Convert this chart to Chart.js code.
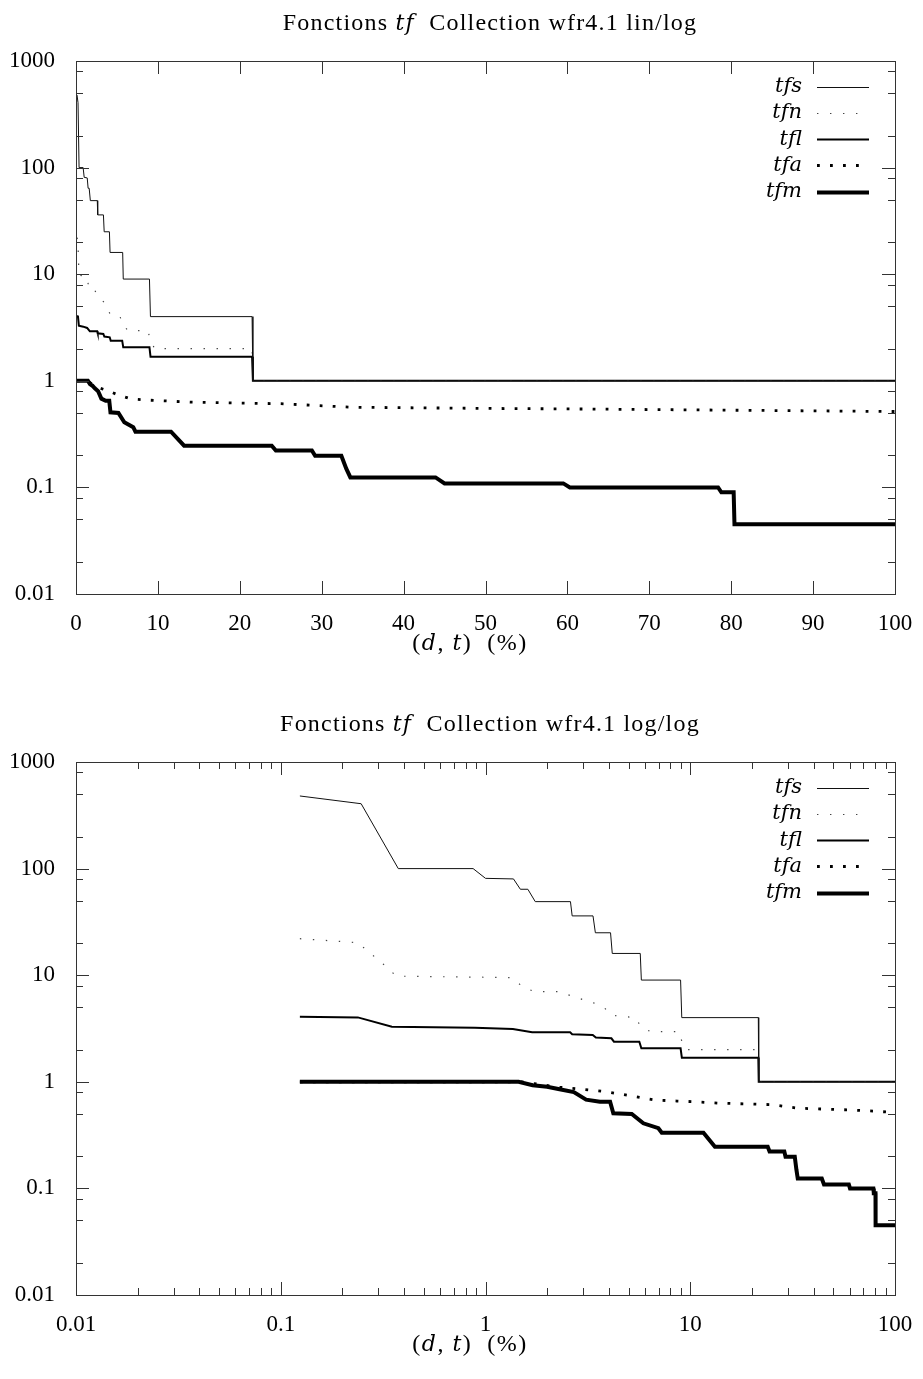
<!DOCTYPE html>
<html><head><meta charset="utf-8">
<script src="https://cdn.jsdelivr.net/npm/chart.js@4/dist/chart.umd.min.js"></script>
<style>
html,body{margin:0;padding:0;background:#fff;overflow:hidden;}
canvas{display:block;}
</style></head><body>
<canvas id="c1" width="923" height="701"></canvas>
<canvas id="c2" width="923" height="678"></canvas>
<script>
// ---- data (x in %, y values) ----
const seriesLabels = ['tfs', 'tfn', 'tfl', 'tfa', 'tfm'];
const tfsX = [0.124, 0.247, 0.375, 0.87, 1.0, 1.37, 1.48, 1.61, 1.75, 2.6, 2.65, 3.35, 3.44, 4.08, 4.16, 5.7, 5.77, 8.97, 9.09, 21.5, 21.6, 100];
const tfsY = [480, 406, 100, 100, 81, 80, 64, 64, 49, 49, 36, 36, 25, 25, 16, 16, 9, 9, 4, 4, 1, 1];
const tfnX = [0.124, 0.238, 0.268, 0.303, 0.338, 0.366, 1.33, 1.51, 1.73, 2.31, 2.62, 3.37, 3.78, 4.16, 5.38, 5.75, 6.4, 8.77, 9.1, 9.6, 21.5, 21.6, 100];
const tfnY = [22, 20.2, 16.6, 13.7, 11.4, 9.8, 9.5, 7.9, 7.0, 7.0, 6.4, 5.5, 5.0, 4.2, 4.0, 3.3, 2.95, 2.95, 2.4, 2.0, 2.0, 1, 1];
const tflX = [0.124, 0.238, 0.349, 0.887, 1.36, 1.69, 2.59, 2.65, 3.34, 3.46, 4.12, 4.24, 5.64, 5.77, 8.97, 9.1, 21.5, 21.6, 100];
const tflY = [4.08, 4.02, 3.29, 3.22, 3.13, 2.91, 2.91, 2.79, 2.75, 2.6, 2.56, 2.38, 2.38, 2.06, 2.06, 1.68, 1.68, 1, 1];
const tfaX = [0.124, 1.5, 1.8, 2.3, 3.0, 3.84, 5.08, 6.73, 8.6, 10.5, 14, 19, 25, 33.6, 51, 60, 80, 100];
const tfaY = [1.0, 1.0, 0.95, 0.89, 0.85, 0.81, 0.74, 0.675, 0.66, 0.65, 0.63, 0.62, 0.61, 0.565, 0.55, 0.545, 0.53, 0.515];
const tfmX = [0.124, 1.45, 1.7, 2.0, 2.3, 2.7, 3.1, 3.62, 4.06, 4.21, 5.18, 5.9, 6.99, 7.26, 11.6, 13.2, 23.9, 24.4, 28.8, 29.2, 32.4, 33.0, 33.5, 43.9, 45.0, 59.5, 60.3, 78.4, 78.8, 80.3, 80.4, 100];
const tfmY = [1.0, 1.0, 0.93, 0.9, 0.85, 0.8, 0.68, 0.65, 0.65, 0.506, 0.499, 0.408, 0.367, 0.333, 0.333, 0.246, 0.246, 0.222, 0.222, 0.198, 0.198, 0.15, 0.124, 0.124, 0.109, 0.109, 0.1, 0.1, 0.09, 0.09, 0.045, 0.045];

// ---- ticks ----
const yTicks = [0.01, 0.1, 1, 10, 100, 1000];
const yMinorMult = [2, 5, 8];
const linXTicks = [0, 10, 20, 30, 40, 50, 60, 70, 80, 90, 100];
const logXTicks = [0.01, 0.1, 1, 10, 100];
const logXMinorMult = [2, 3, 4, 5, 6, 7, 8, 9];
const titles = ['lin/log', 'log/log'];

const FONT = '"Liberation Serif", "DejaVu Serif", serif';
const IFONT = '"DejaVu Serif", "Liberation Serif", serif';
const FS = 23;

function styles() {
  return [
    { borderColor: '#111', borderWidth: 1, borderDash: [] },
    { borderColor: '#444', borderWidth: 1.2, borderDash: [1.4, 11.6] },
    { borderColor: '#000', borderWidth: 2, borderDash: [] },
    { borderColor: '#000', borderWidth: 2.8, borderDash: [2.8, 10.2] },
    { borderColor: '#000', borderWidth: 4, borderDash: [] }
  ];
}

function buildDatasets() {
  const xs = [tfsX, tfnX, tflX, tfaX, tfmX];
  const ys = [tfsY, tfnY, tflY, tfaY, tfmY];
  const st = styles();
  return seriesLabels.map((lab, i) => ({
    label: lab,
    data: xs[i].map((x, j) => ({ x: x, y: ys[i][j] })),
    borderColor: st[i].borderColor,
    borderWidth: st[i].borderWidth,
    borderDash: st[i].borderDash,
    borderCapStyle: 'butt',
    pointRadius: 0,
    tension: 0,
    fill: false
  }));
}

// parts: [text, italic]
function drawParts(ctx, parts, cx, baseline, size, spacing) {
  const fontOf = p => p[1] ? ('italic ' + (size - 2) + 'px ' + IFONT) : (size + 'px ' + FONT);
  ctx.letterSpacing = spacing + 'px';
  let total = 0;
  const ws = parts.map(p => {
    ctx.font = fontOf(p);
    const w = ctx.measureText(p[0]).width; total += w; return w;
  });
  let x = cx - total / 2;
  ctx.textAlign = 'left';
  ctx.textBaseline = 'alphabetic';
  parts.forEach((p, i) => {
    ctx.font = fontOf(p);
    ctx.fillText(p[0], x, baseline);
    x += ws[i];
  });
  ctx.letterSpacing = '0px';
}

function makeDecor(isLog, titleSuffix) {
  return {
    id: 'decor',
    afterDraw(chart) {
      const ctx = chart.ctx;
      const { left, right, top, bottom } = chart.chartArea;
      const xs = chart.scales.x, ys = chart.scales.y;
      ctx.save();
      ctx.strokeStyle = '#333';
      ctx.lineWidth = 1;
      const MAJ = 13, MIN = 7;
      const vline = (px, len) => {
        const p = Math.round(px) + 0.5;
        ctx.beginPath();
        ctx.moveTo(p, bottom); ctx.lineTo(p, bottom - len);
        ctx.moveTo(p, top); ctx.lineTo(p, top + len);
        ctx.stroke();
      };
      const hline = (py, len) => {
        const p = Math.round(py) + 0.5;
        ctx.beginPath();
        ctx.moveTo(left, p); ctx.lineTo(left + len, p);
        ctx.moveTo(right, p); ctx.lineTo(right - len, p);
        ctx.stroke();
      };
      if (isLog) {
        logXTicks.forEach((v, i) => {
          vline(xs.getPixelForValue(v), MAJ);
          if (i < logXTicks.length - 1) logXMinorMult.forEach(m => vline(xs.getPixelForValue(v * m), MIN));
        });
      } else {
        linXTicks.forEach(v => vline(xs.getPixelForValue(v), MAJ));
      }
      yTicks.forEach((v, i) => {
        hline(ys.getPixelForValue(v), MAJ);
        if (i < yTicks.length - 1) yMinorMult.forEach(m => hline(ys.getPixelForValue(v * m), MIN));
      });
      ctx.strokeRect(Math.round(left) + 0.5, Math.round(top) + 0.5, Math.round(right - left), Math.round(bottom - top));

      ctx.fillStyle = '#000';
      drawParts(ctx, [['Fonctions ', false], ['tf', true], ['  Collection wfr4.1 ' + titleSuffix, false]], 490, 30, 24, 1.2);
      drawParts(ctx, [['(', false], ['d', true], [', ', false], ['t', true], [')  (%)', false]], 470, 650, 24, 1.5);

      const ds = chart.data.datasets;
      ds.forEach((d, i) => {
        const y = 86.7 + 26.2 * i;
        ctx.font = 'italic 21px ' + IFONT;
        ctx.textAlign = 'right';
        ctx.textBaseline = 'middle';
        ctx.fillStyle = '#000';
        ctx.fillText(d.label, 802, y);
        ctx.beginPath();
        ctx.setLineDash(d.borderDash || []);
        ctx.lineCap = 'butt';
        ctx.strokeStyle = d.borderColor;
        ctx.lineWidth = d.borderWidth;
        ctx.moveTo(817, Math.round(y) + 0.5);
        ctx.lineTo(869, Math.round(y) + 0.5);
        ctx.stroke();
        ctx.setLineDash([]);
      });
      ctx.restore();
    }
  };
}

function makeChart(id, isLog, titleSuffix) {
  const canvas = document.getElementById(id);
  const H = canvas.height;
  const xTicks = isLog ? logXTicks : linXTicks;
  return new Chart(canvas, {
    type: 'line',
    data: { datasets: buildDatasets() },
    options: {
      responsive: false,
      animation: false,
      devicePixelRatio: 1,
      layout: { padding: { left: 0, right: 28, top: 61, bottom: 0 } },
      plugins: { legend: { display: false }, title: { display: false }, tooltip: { enabled: false } },
      scales: {
        x: {
          type: isLog ? 'logarithmic' : 'linear',
          min: isLog ? 0.01 : 0,
          max: 100,
          grid: { display: false },
          border: { display: false },
          ticks: {
            autoSkip: false, maxRotation: 0, padding: 8, color: '#000',
            font: { family: FONT, size: FS },
            callback: v => xTicks.includes(v) ? String(v) : ''
          },
          afterBuildTicks: s => { s.ticks = xTicks.map(v => ({ value: v })); },
          afterFit: s => { s.height = H - 594; }
        },
        y: {
          type: 'logarithmic',
          min: 0.01,
          max: 1000,
          grid: { display: false },
          border: { display: false },
          ticks: {
            autoSkip: false, padding: 13, color: '#000',
            font: { family: FONT, size: FS },
            callback: v => yTicks.includes(v) ? String(v) : ''
          },
          afterBuildTicks: s => { s.ticks = yTicks.map(v => ({ value: v })); },
          afterFit: s => { s.width = 76; }
        }
      }
    },
    plugins: [makeDecor(isLog, titleSuffix)]
  });
}

makeChart('c1', false, titles[0]);
makeChart('c2', true, titles[1]);
</script>
</body></html>
